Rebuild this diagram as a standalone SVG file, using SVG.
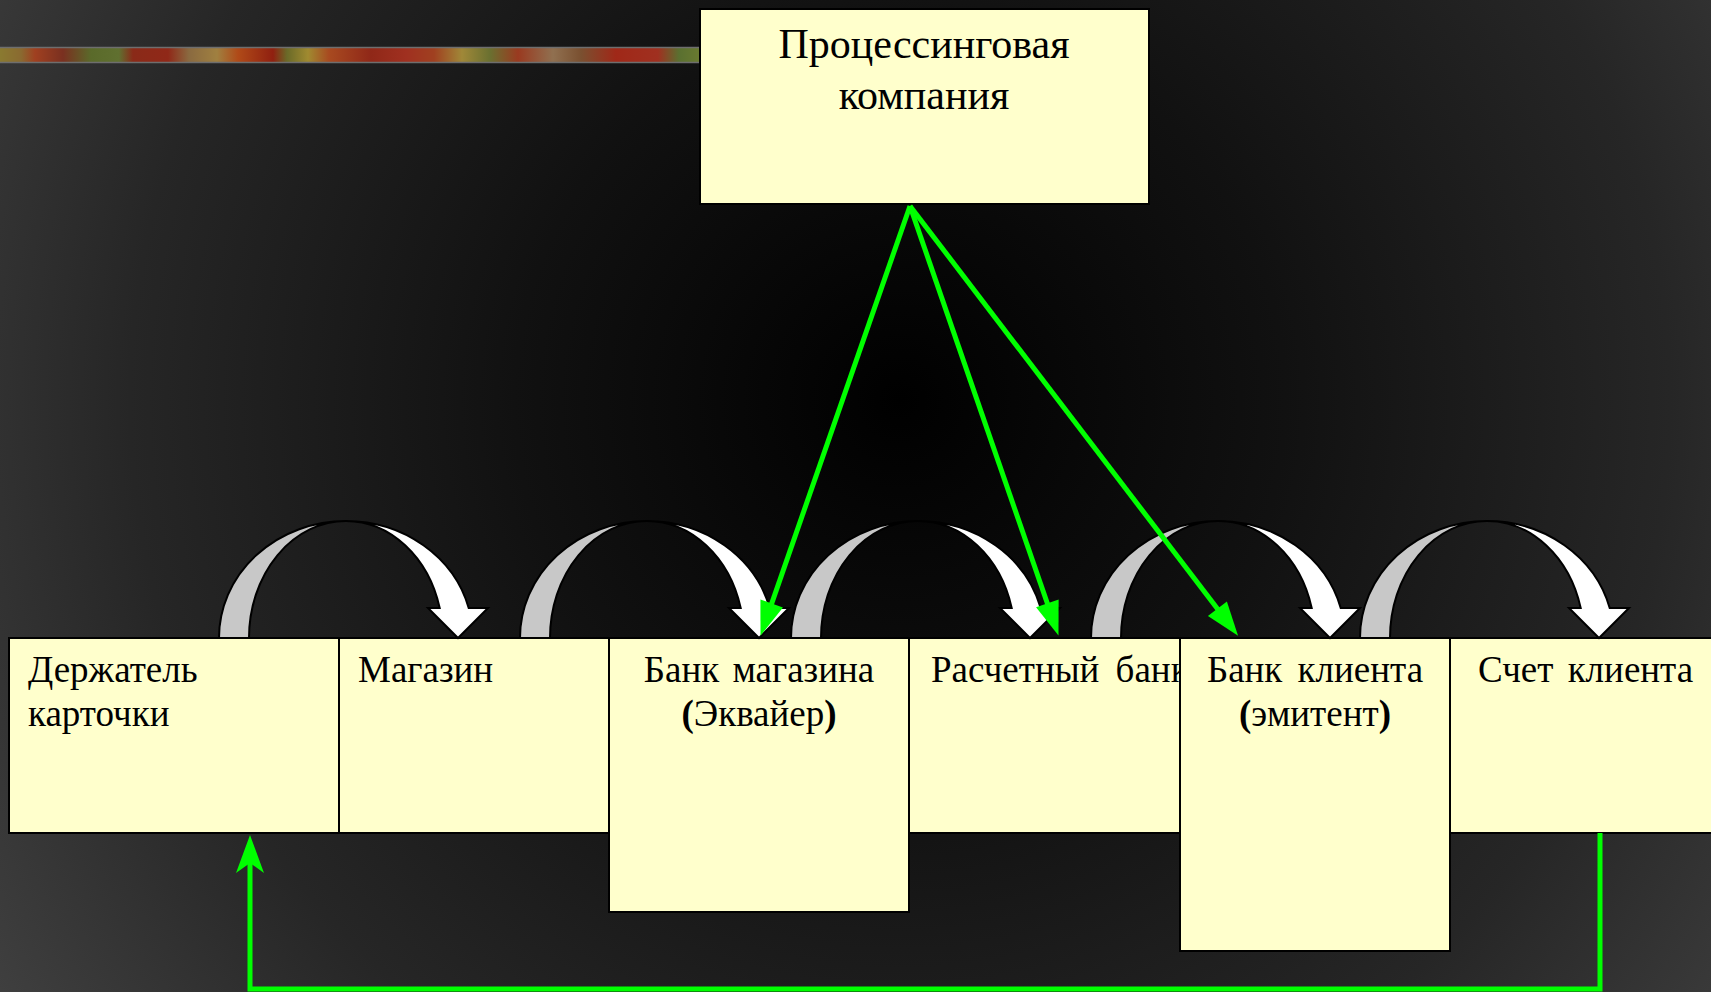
<svg xmlns="http://www.w3.org/2000/svg" xmlns:xlink="http://www.w3.org/1999/xlink" width="1711" height="992" viewBox="0 0 1711 992">
<style>
.box{fill:#FFFFCC;stroke:#000;stroke-width:2}
.t{font-family:"Liberation Serif","Times New Roman",serif;fill:#000}
.t42{font-size:42px}
.t37{font-size:37px}
.b{font-weight:bold}
.back{fill:#C8C8C8;stroke:#000;stroke-width:2;stroke-linejoin:miter}
.front{fill:#FFFFFF;stroke:#000;stroke-width:2;stroke-linejoin:miter}
.g{fill:none;stroke:#00FF00;stroke-width:5}
</style>
<defs>
<radialGradient id="bg" gradientUnits="userSpaceOnUse" cx="900" cy="400" r="1100">
<stop offset="0" stop-color="#000000"/>
<stop offset="0.35" stop-color="#111111"/>
<stop offset="0.7" stop-color="#262626"/>
<stop offset="1" stop-color="#414141"/>
</radialGradient>
<linearGradient id="stripe" x1="0" y1="0" x2="1" y2="0">
<stop offset="0" stop-color="#8a7a30"/>
<stop offset="0.03" stop-color="#8a6a30"/>
<stop offset="0.05" stop-color="#a04020"/>
<stop offset="0.09" stop-color="#7a3020"/>
<stop offset="0.13" stop-color="#5a6a2a"/>
<stop offset="0.17" stop-color="#607030"/>
<stop offset="0.19" stop-color="#8a2a18"/>
<stop offset="0.24" stop-color="#902818"/>
<stop offset="0.27" stop-color="#8a6a40"/>
<stop offset="0.31" stop-color="#a08040"/>
<stop offset="0.34" stop-color="#b04a18"/>
<stop offset="0.39" stop-color="#902010"/>
<stop offset="0.41" stop-color="#6a6a28"/>
<stop offset="0.44" stop-color="#a08a30"/>
<stop offset="0.47" stop-color="#a84a20"/>
<stop offset="0.53" stop-color="#902818"/>
<stop offset="0.58" stop-color="#a03020"/>
<stop offset="0.62" stop-color="#a04020"/>
<stop offset="0.66" stop-color="#a08838"/>
<stop offset="0.70" stop-color="#6a7030"/>
<stop offset="0.74" stop-color="#9a3a20"/>
<stop offset="0.79" stop-color="#907050"/>
<stop offset="0.83" stop-color="#7a5030"/>
<stop offset="0.88" stop-color="#a02818"/>
<stop offset="0.94" stop-color="#a03020"/>
<stop offset="0.97" stop-color="#5a7030"/>
<stop offset="1" stop-color="#6a7a30"/>
</linearGradient>
<g id="curve">
<path class="back" d="M-127,638 A127,117 0 0 1 0,521 A97,117 0 0 0 -97,638 Z"/>
<path class="front" d="M0,521 A127,117 0 0 1 122.7,608 L142,608 L112,638 L82,608 L93.7,608 A97,117 0 0 0 0,521 Z"/>
</g>
<marker id="ga" markerUnits="userSpaceOnUse" markerWidth="46" markerHeight="32" viewBox="-42 -16 54 32" refX="0" refY="0" orient="auto">
<path d="M10,0 L-30,-14 L-30,14 Z" fill="#00FF00"/>
</marker>
<marker id="gn" markerUnits="userSpaceOnUse" markerWidth="46" markerHeight="32" viewBox="-32 -16 44 32" refX="0" refY="0" orient="auto">
<path d="M10,0 L-28,-14 L-18,0 L-28,14 Z" fill="#00FF00"/>
</marker>
</defs>
<rect x="0" y="0" width="1711" height="992" fill="url(#bg)"/>
<g id="stripe-band">
<rect x="0" y="47" width="700" height="16" fill="url(#stripe)"/>
<line x1="0" y1="47.5" x2="700" y2="47.5" stroke="#6e6e6e" stroke-width="1.5"/>
<line x1="0" y1="62.5" x2="700" y2="62.5" stroke="#6e6e6e" stroke-width="1.5"/>
</g>
<g id="processing">
<rect class="box" x="700" y="9" width="449" height="195"/>
<text class="t t42" x="924" y="58" text-anchor="middle">Процессинговая</text>
<text class="t t42" x="924" y="109" text-anchor="middle">компания</text>
</g>
<g id="holder">
<rect class="box" x="9" y="638" width="330" height="195"/>
<text class="t t37" x="28" y="682">Держатель</text>
<text class="t t37" x="28" y="726">карточки</text>
</g>
<g id="shop">
<rect class="box" x="339" y="638" width="270" height="195"/>
<text class="t t37" x="358" y="682">Магазин</text>
</g>
<g id="acquirer">
<rect class="box" x="609" y="638" width="300" height="274"/>
<text class="t t37" x="759" y="682" text-anchor="middle" word-spacing="4">Банк магазина</text>
<text class="t t37" x="759" y="726" text-anchor="middle"><tspan class="b">(</tspan>Эквайер<tspan class="b">)</tspan></text>
</g>
<g id="settlement">
<rect class="box" x="909" y="638" width="271" height="195"/>
<text class="t t37" x="931" y="682" word-spacing="7">Расчетный банк</text>
</g>
<g id="issuer">
<rect class="box" x="1180" y="638" width="270" height="313"/>
<text class="t t37" x="1315" y="682" text-anchor="middle" word-spacing="6">Банк клиента</text>
<text class="t t37" x="1315" y="726" text-anchor="middle"><tspan class="b">(</tspan>эмитент<tspan class="b">)</tspan></text>
</g>
<g id="account">
<rect class="box" x="1450" y="638" width="280" height="195"/>
<text class="t t37" x="1478" y="682" word-spacing="5">Счет клиента</text>
</g>
<g id="flow-arrows">
<use xlink:href="#curve" href="#curve" x="346" y="0"/>
<use xlink:href="#curve" href="#curve" x="647" y="0"/>
<use xlink:href="#curve" href="#curve" x="918" y="0"/>
<use xlink:href="#curve" href="#curve" x="1218" y="0"/>
<use xlink:href="#curve" href="#curve" x="1487" y="0"/>
</g>
<g id="connectors">
<line class="g" x1="910" y1="206" x2="763.3" y2="627.6" marker-end="url(#ga)"/>
<line class="g" x1="910" y1="206" x2="1055.7" y2="627.5" marker-end="url(#ga)"/>
<line class="g" x1="910" y1="206" x2="1232.9" y2="629.1" marker-end="url(#ga)"/>
<path class="g" d="M1600,833 V989 H250 V845" marker-end="url(#gn)"/>
</g>
</svg>
